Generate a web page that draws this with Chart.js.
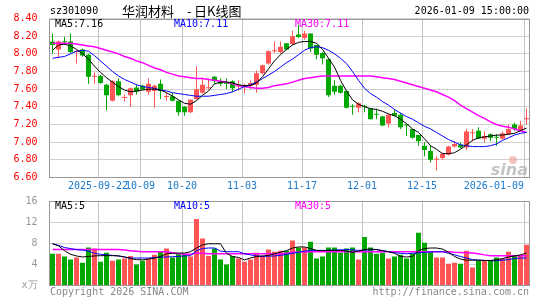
<!DOCTYPE html>
<html>
<head>
<meta charset="utf-8">
<script src="https://cdn.jsdelivr.net/npm/chart.js@4.4.1/dist/chart.umd.min.js"></script>
<style>
  body { margin: 0; background: #fff; }
  #wrap { position: relative; width: 545px; height: 300px; }
  canvas { position: absolute; left: 0; top: 0; }
</style>
</head>
<body>
<div id="wrap">
  <canvas id="kline" width="545" height="300"></canvas>
  <canvas id="vol" width="545" height="300"></canvas>
</div>
<script>
// trading days shown on the chart
const dates = [
  "2025-09-10","2025-09-11","2025-09-12","2025-09-15","2025-09-16","2025-09-17","2025-09-18","2025-09-19",
  "2025-09-22","2025-09-23","2025-09-24","2025-09-25","2025-09-26","2025-09-29","2025-09-30",
  "2025-10-09","2025-10-10","2025-10-13","2025-10-14","2025-10-15","2025-10-16","2025-10-17",
  "2025-10-20","2025-10-21","2025-10-22","2025-10-23","2025-10-24","2025-10-27","2025-10-28","2025-10-29","2025-10-30","2025-10-31",
  "2025-11-03","2025-11-04","2025-11-05","2025-11-06","2025-11-07","2025-11-10","2025-11-11","2025-11-12","2025-11-13","2025-11-14",
  "2025-11-17","2025-11-18","2025-11-19","2025-11-20","2025-11-21","2025-11-24","2025-11-25","2025-11-26","2025-11-27","2025-11-28",
  "2025-12-01","2025-12-02","2025-12-03","2025-12-04","2025-12-05","2025-12-08","2025-12-09","2025-12-10","2025-12-11","2025-12-12",
  "2025-12-15","2025-12-16","2025-12-17","2025-12-18","2025-12-19","2025-12-22","2025-12-23","2025-12-24","2025-12-25","2025-12-26",
  "2025-12-29","2025-12-30","2025-12-31",
  "2026-01-05","2026-01-06","2026-01-07","2026-01-08","2026-01-09"
];

const openP = [
  8.14,8.05,8.14,8.14,8.02,8.05,7.99,7.74,7.75,7.65,
  7.47,7.69,7.50,7.53,7.62,7.64,7.57,7.58,7.66,7.51,
  7.52,7.47,7.40,7.34,7.49,7.56,7.61,7.74,7.69,7.67,
  7.69,7.63,7.63,7.64,7.65,7.78,7.89,8.03,8.02,8.12,
  8.11,8.22,8.18,8.23,8.10,8.01,7.94,7.64,7.64,7.58,
  7.41,7.39,7.41,7.38,7.32,7.29,7.21,7.33,7.31,7.20,
  7.15,7.08,6.96,6.90,6.80,6.82,6.86,6.95,6.97,6.94,
  7.10,7.13,7.04,7.09,7.06,7.04,7.09,7.20,7.13,7.26
];
const highP = [
  8.23,8.15,8.19,8.23,8.04,8.06,8.00,7.79,7.76,7.66,
  7.70,7.72,7.54,7.62,7.65,7.65,7.72,7.65,7.71,7.56,
  7.56,7.47,7.41,7.49,7.86,7.73,7.72,7.75,7.72,7.72,
  7.70,7.70,7.66,7.70,7.81,7.88,8.04,8.14,8.14,8.12,
  8.26,8.33,8.26,8.23,8.10,8.02,7.95,7.70,7.65,7.58,
  7.43,7.45,7.42,7.38,7.38,7.30,7.32,7.37,7.33,7.20,
  7.15,7.08,7.00,6.96,6.84,6.88,6.96,7.01,7.00,7.15,
  7.15,7.17,7.12,7.10,7.09,7.12,7.20,7.22,7.24,7.38
];
const lowP = [
  8.00,7.95,8.10,8.01,7.89,7.97,7.66,7.66,7.66,7.36,
  7.46,7.52,7.46,7.40,7.54,7.59,7.54,7.39,7.49,7.47,
  7.46,7.30,7.30,7.33,7.48,7.55,7.60,7.66,7.64,7.60,
  7.57,7.58,7.55,7.60,7.56,7.77,7.88,8.01,8.00,8.04,
  8.10,8.18,8.16,8.02,7.94,7.88,7.51,7.54,7.55,7.38,
  7.31,7.34,7.34,7.26,7.26,7.18,7.17,7.29,7.15,7.07,
  7.04,6.96,6.84,6.77,6.68,6.80,6.85,6.94,6.93,6.91,
  7.01,7.04,7.00,7.01,6.96,7.03,7.08,7.13,7.12,7.20
];
const closeP = [
  8.10,8.14,8.13,8.02,8.03,7.98,7.74,7.75,7.67,7.53,
  7.69,7.53,7.51,7.61,7.57,7.60,7.66,7.64,7.58,7.52,
  7.47,7.34,7.34,7.48,7.60,7.65,7.62,7.69,7.66,7.66,
  7.61,7.64,7.64,7.67,7.78,7.87,8.03,8.04,8.08,8.05,
  8.20,8.19,8.23,8.06,7.99,7.95,7.53,7.57,7.56,7.39,
  7.40,7.44,7.40,7.26,7.31,7.19,7.31,7.30,7.17,7.19,
  7.05,7.01,6.91,6.80,6.81,6.87,6.95,6.98,6.94,7.12,
  7.11,7.04,7.07,7.05,7.05,7.10,7.15,7.15,7.19,7.27
];

// moving averages as drawn (they include days before the window)
const ma5 = [
  8.04,8.10,8.11,8.09,8.05,8.00,7.94,7.86,7.79,7.73,
  7.68,7.63,7.59,7.57,7.58,7.59,7.60,7.60,7.59,7.56,
  7.52,7.48,7.44,7.43,7.47,7.53,7.58,7.66,7.68,7.68,
  7.67,7.65,7.64,7.64,7.67,7.74,7.83,7.92,7.99,8.05,
  8.10,8.13,8.14,8.14,8.12,8.05,7.95,7.85,7.70,7.58,
  7.48,7.43,7.40,7.38,7.37,7.35,7.32,7.30,7.26,7.21,
  7.15,7.11,7.04,6.96,6.92,6.87,6.87,6.88,6.92,6.97,
  7.02,7.05,7.06,7.07,7.08,7.08,7.09,7.10,7.13,7.16
];
const ma10 = [
  7.95,7.96,7.97,8.00,8.03,8.04,8.03,7.98,7.92,7.86,
  7.80,7.75,7.71,7.68,7.65,7.63,7.62,7.61,7.59,7.58,
  7.56,7.55,7.54,7.53,7.52,7.52,7.52,7.53,7.54,7.55,
  7.57,7.60,7.63,7.65,7.68,7.72,7.76,7.80,7.85,7.90,
  7.94,7.99,8.04,8.07,8.08,8.07,8.04,8.00,7.95,7.89,
  7.80,7.70,7.61,7.55,7.51,7.46,7.42,7.37,7.33,7.29,
  7.26,7.22,7.18,7.15,7.11,7.07,7.03,7.00,6.97,6.96,
  6.95,6.95,6.95,6.96,6.98,7.02,7.05,7.08,7.10,7.11
];
const ma30 = [
  8.12,8.12,8.12,8.12,8.11,8.10,8.09,8.08,8.06,8.04,
  8.02,8.00,7.97,7.95,7.92,7.90,7.87,7.84,7.82,7.79,
  7.77,7.75,7.74,7.73,7.72,7.72,7.71,7.70,7.69,7.68,
  7.66,7.64,7.63,7.62,7.61,7.61,7.62,7.64,7.65,7.66,
  7.68,7.70,7.72,7.73,7.74,7.75,7.75,7.75,7.75,7.75,
  7.75,7.75,7.75,7.75,7.74,7.73,7.72,7.71,7.69,7.67,
  7.65,7.63,7.61,7.59,7.57,7.54,7.51,7.47,7.42,7.38,
  7.34,7.30,7.27,7.23,7.20,7.18,7.17,7.15,7.13,7.11
];

// volume, in 10k lots
const volume = [
  6.0,6.0,5.5,4.9,5.3,4.3,7.2,7.0,4.5,6.2,
  4.7,4.9,5.1,5.6,4.0,4.7,5.1,5.8,6.4,7.0,
  5.3,6.0,6.0,5.5,12.6,8.9,5.6,7.0,4.9,4.0,
  5.6,5.1,4.5,4.9,6.2,5.6,6.8,6.4,6.6,6.6,
  8.5,7.2,7.2,8.3,5.1,5.5,7.2,7.2,6.2,7.0,
  7.2,4.9,9.2,7.2,6.0,6.2,5.1,5.5,5.8,5.1,
  6.0,10.0,8.1,6.4,5.3,5.3,4.1,4.3,4.1,6.6,
  3.4,4.7,4.7,4.7,5.3,5.1,6.4,5.7,5.7,7.7
];
const volMa5 = [
  7.9,7.5,6.6,5.9,5.6,5.4,5.5,5.6,5.65,5.65,
  5.65,5.6,5.4,5.1,4.9,4.85,5.0,5.2,5.5,6.0,
  6.1,6.15,6.15,6.4,7.1,7.7,7.9,7.9,7.9,6.1,
  5.5,5.3,4.85,5.2,5.5,5.6,5.7,6.0,6.3,6.6,
  7.1,7.3,7.3,7.0,6.65,6.6,6.65,6.65,6.65,6.5,
  6.3,6.5,6.8,6.9,6.8,6.6,6.4,6.1,5.5,5.4,
  5.5,6.6,7.0,7.1,7.1,6.9,6.3,5.5,5.0,4.8,
  4.8,4.8,4.75,4.75,4.85,5.1,5.4,5.6,5.8,6.15
];
const volMa10 = [
  7.9,7.6,7.2,7.0,6.8,6.7,6.5,6.1,5.9,5.8,
  5.7,5.6,5.4,5.2,5.2,5.2,5.2,5.3,5.35,5.4,
  5.45,5.5,5.6,5.65,6.6,7.0,7.1,7.1,6.5,6.4,
  6.4,6.4,6.0,5.8,5.6,5.5,5.55,5.6,5.7,5.9,
  6.1,6.3,6.5,6.65,6.65,6.65,6.65,6.7,6.75,6.8,
  6.75,6.65,6.7,6.75,6.8,6.6,6.4,6.2,6.1,6.0,
  6.1,6.2,6.3,6.35,6.4,6.4,6.1,5.8,5.5,5.2,
  4.9,4.8,4.75,4.7,4.7,4.8,4.9,5.1,5.2,5.2
];
const volMa30 = [
  6.8,6.8,6.8,6.8,6.8,6.8,6.8,6.8,6.8,6.8,
  6.8,6.8,6.7,6.6,6.5,6.4,6.4,6.4,6.4,6.4,
  6.2,6.0,5.9,5.9,6.1,6.1,6.0,6.0,6.0,6.0,
  6.0,6.0,6.0,6.0,6.0,6.0,6.0,6.0,6.0,6.1,
  6.3,6.35,6.4,6.4,6.4,6.4,6.4,6.4,6.4,6.4,
  6.4,6.4,6.4,6.4,6.4,6.4,6.4,6.4,6.4,6.4,
  6.4,6.4,6.4,6.4,6.4,6.4,6.4,6.3,6.25,6.2,
  6.15,6.0,5.8,5.65,5.65,5.65,5.65,5.65,5.65,5.65
];

const tickDates = ["2025-09-22","2025-10-09","2025-10-20","2025-11-03","2025-11-17","2025-12-01","2025-12-15","2026-01-09"];
const tickLabels = ["2025-09-22","10-09","10-20","11-03","11-17","12-01","12-15","2026-01-09"];
const priceLegend = ["MA5:7.16", "MA10:7.11", "MA30:7.11"];
const volLegend = ["MA5:5", "MA10:5", "MA30:5"];

const UP = "#ff5555";
const DOWN = "#00a800";
const GRID_H = "#d0d0d0";
const GRID_V = "#c4c4c4";
const FRAME = "#999999";
const MA_COLORS = ["#000000", "#0000ff", "#ff00ff"];
const MONO = "DejaVu Sans Mono";

const isUp = i => closeP[i] >= openP[i];
const barColor = ctx => isUp(ctx.dataIndex) ? UP : DOWN;
const pts = arr => arr.map((v, i) => ({ x: i + 0.5, y: v }));

function xScale() {
  return {
    type: "linear",
    min: 0,
    max: dates.length,
    offset: false,
    afterBuildTicks: s => { s.ticks = tickDates.map(d => ({ value: dates.indexOf(d) })); },
    afterFit: s => { s.height = 0; },
    ticks: { display: false },
    grid: { display: false, offset: false },
    border: { display: false }
  };
}

function maLine(label, data, color, width) {
  return {
    type: "line", label: label, data: pts(data),
    borderColor: color, borderWidth: width,
    pointRadius: 0, tension: 0, fill: false, order: 0
  };
}

// light price lines and date lines under the marks, placed from the scales
const gridLines = {
  id: "gridLines",
  beforeDatasetsDraw(chart) {
    const { ctx, chartArea: a } = chart;
    const xs = chart.scales.x, ys = chart.scales.y;
    const top = Math.round(a.top), bottom = Math.floor(a.bottom);
    ctx.save();
    ctx.lineWidth = 1;
    ctx.strokeStyle = GRID_H;
    ctx.beginPath();
    ys.ticks.forEach(t => {
      const py = Math.floor(ys.getPixelForValue(t.value)) + 0.5;
      ctx.moveTo(a.left, py);
      ctx.lineTo(a.right, py);
    });
    ctx.stroke();
    ctx.strokeStyle = GRID_V;
    ctx.beginPath();
    xs.ticks.forEach(t => {
      const px = Math.ceil(xs.getPixelForValue(t.value)) + 0.5;
      ctx.moveTo(px, top);
      ctx.lineTo(px, bottom);
    });
    ctx.stroke();
    ctx.restore();
  }
};

// gray frame round the plot area
const frame = {
  id: "frame",
  afterDraw(chart) {
    const { ctx, chartArea: a } = chart;
    const top = Math.round(a.top), bottom = Math.floor(a.bottom);
    ctx.save();
    ctx.strokeStyle = FRAME;
    ctx.lineWidth = 1;
    ctx.strokeRect(a.left, top + 0.5, a.right - a.left, bottom - top);
    ctx.restore();
  }
};

function drawLegend(ctx, area, texts) {
  ctx.font = "10px '" + MONO + "'";
  ctx.textAlign = "left";
  ctx.textBaseline = "middle";
  const xs = [area.left + 5.5, area.left + 124.5, area.left + 245.5];
  texts.forEach((t, k) => {
    ctx.fillStyle = MA_COLORS[k];
    ctx.fillText(t, xs[k], Math.round(area.top) + 5);
  });
}

const klineText = {
  id: "klineText",
  afterDraw(chart) {
    const { ctx, chartArea: a } = chart;
    ctx.save();
    ctx.textBaseline = "middle";
    ctx.font = "10px '" + MONO + "'";
    ctx.fillStyle = "#000";
    ctx.textAlign = "left";
    ctx.fillText("sz301090", 50, 11.5);
    ctx.textAlign = "right";
    ctx.fillText("2026-01-09 15:00:00", 529, 11.5);
    ctx.font = "13px 'Noto Sans CJK SC'";
    ctx.textAlign = "left";
    ctx.fillText("华润材料", 122, 11);
    ctx.fillText("-", 187, 11);
    ctx.fillText("日K线图", 194, 11);

    drawLegend(ctx, a, priceLegend);

    // date labels under the price panel
    const xs = chart.scales.x;
    ctx.font = "10px '" + MONO + "'";
    ctx.fillStyle = "#1a7acb";
    xs.ticks.forEach((t, k) => {
      const px = Math.ceil(xs.getPixelForValue(t.value));
      ctx.textAlign = k === xs.ticks.length - 1 ? "right" : "center";
      ctx.fillText(tickLabels[k], px, 186);
    });

    // sina watermark
    ctx.fillStyle = "rgba(235,170,170,0.7)";
    ctx.beginPath();
    ctx.arc(513, 160, 4, 0, Math.PI * 2);
    ctx.fill();
    ctx.font = "italic bold 16px 'DejaVu Sans'";
    ctx.fillStyle = "rgba(185,185,185,0.85)";
    ctx.textAlign = "right";
    ctx.fillText("sina", 528, 171);
    ctx.restore();
  }
};

const volText = {
  id: "volText",
  afterDraw(chart) {
    const { ctx, chartArea: a } = chart;
    ctx.save();
    drawLegend(ctx, a, volLegend);
    ctx.font = "10px '" + MONO + "'";
    ctx.fillStyle = "#888";
    ctx.textBaseline = "middle";
    ctx.textAlign = "left";
    ctx.fillText("Copyright 2026 SINA.COM", 50, 292);
    ctx.textAlign = "right";
    ctx.fillText("http://finance.sina.com.cn", 529, 292);
    ctx.restore();
  }
};

Chart.defaults.font.family = MONO;

new Chart(document.getElementById("kline"), {
  type: "bar",
  data: {
    datasets: [
      maLine("MA5", ma5, MA_COLORS[0], 1),
      maLine("MA10", ma10, MA_COLORS[1], 1),
      maLine("MA30", ma30, MA_COLORS[2], 1.5),
      {
        label: "body",
        data: dates.map((d, i) => ({ x: i + 0.5, y: [openP[i], closeP[i]] })),
        backgroundColor: barColor,
        barThickness: 5, minBarLength: 1, grouped: false, inflateAmount: 0, order: 1
      },
      {
        label: "wick",
        data: dates.map((d, i) => ({ x: i + 0.5, y: [lowP[i], highP[i]] })),
        backgroundColor: barColor,
        barThickness: 1, grouped: false, inflateAmount: 0, order: 2
      }
    ]
  },
  options: {
    responsive: false,
    animation: false,
    events: [],
    layout: { padding: { left: 0, right: 15.5, top: 18.5, bottom: 122.5 } },
    plugins: { legend: { display: false }, tooltip: { enabled: false } },
    scales: {
      x: xScale(),
      y: {
        min: 6.6,
        max: 8.4,
        afterFit: s => { s.width = 49.5; },
        ticks: {
          stepSize: 0.2, color: "#ff0000", padding: 4,
          font: { family: MONO, size: 10 },
          callback: v => Number(v).toFixed(2)
        },
        grid: { display: false },
        border: { display: false }
      }
    }
  },
  plugins: [gridLines, frame, klineText]
});

new Chart(document.getElementById("vol"), {
  type: "bar",
  data: {
    datasets: [
      maLine("MA5", volMa5, MA_COLORS[0], 1),
      maLine("MA10", volMa10, MA_COLORS[1], 1),
      maLine("MA30", volMa30, MA_COLORS[2], 1.5),
      {
        label: "volume",
        data: volume.map((v, i) => ({ x: i + 0.5, y: v })),
        backgroundColor: barColor,
        barThickness: 5, grouped: false, inflateAmount: 0, order: 1
      }
    ]
  },
  options: {
    responsive: false,
    animation: false,
    events: [],
    layout: { padding: { left: 0, right: 15.5, top: 201, bottom: 14.5 } },
    plugins: { legend: { display: false }, tooltip: { enabled: false } },
    scales: {
      x: xScale(),
      y: {
        min: 0,
        max: 16,
        afterFit: s => { s.width = 49.5; },
        ticks: {
          stepSize: 4, color: "#999", padding: 4,
          font: { family: MONO, size: 10 },
          callback: v => v === 0 ? "x万" : String(v)
        },
        grid: { display: false },
        border: { display: false }
      }
    }
  },
  plugins: [gridLines, frame, volText]
});
</script>
</body>
</html>
